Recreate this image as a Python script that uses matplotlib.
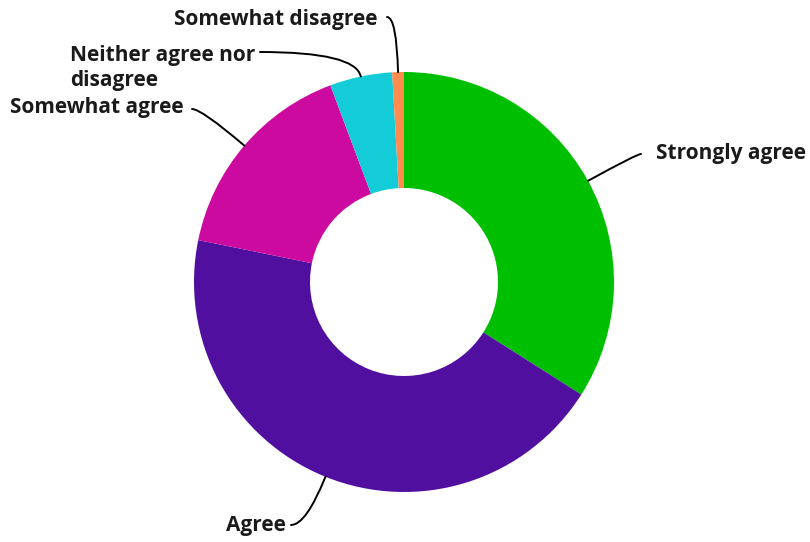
import numpy as np
import matplotlib
matplotlib.use("Agg")
import matplotlib.pyplot as plt

labels = ["Strongly agree", "Agree", "Somewhat agree",
          "Neither agree nor\ndisagree", "Somewhat disagree"]
values = [34.0, 44.2, 16.1, 4.8, 0.9]
colors = ["#00BF00", "#510FA0", "#CC0AA0", "#14CCD8", "#FF8B4F"]

# label anchor (x, y in pixels from top-left), alignment, where the leader line starts
label_pos = [(656, 154, "left"), (286, 525, "right"), (184, 108, "right"),
             (255, 68, "right"), (377, 19, "right")]
line_start = [(641, 154), (291, 525), (192, 109), (260, 52), (387, 17)]

W, H = 810, 542
fig = plt.figure(figsize=(W / 100, H / 100), dpi=100)
ax = fig.add_axes([0, 0, 1, 1])

cx, cy, R = 404, H - 282, 210
wedges, _ = ax.pie(values, colors=colors, startangle=90, counterclock=False,
                   center=(cx, cy), radius=R,
                   wedgeprops=dict(width=R - 94, linewidth=0))
ax.set_xlim(0, W)
ax.set_ylim(0, H)
ax.set_aspect("auto")
ax.axis("off")

for w, lab, (tx, ty, ha), (sx, sy) in zip(wedges, labels, label_pos, line_start):
    mid = (w.theta1 + w.theta2) / 2
    ex = cx + R * np.cos(np.radians(mid))
    ey = cy + R * np.sin(np.radians(mid))
    ax.annotate("", xy=(ex, ey), xytext=(sx, H - sy),
                arrowprops=dict(arrowstyle="-", color="black", lw=1.4,
                                shrinkA=0, shrinkB=0,
                                connectionstyle=f"angle3,angleA=0,angleB={mid}"))
    ax.text(tx, H - ty, lab, ha=ha, va="center",
            multialignment="left", fontsize=15, fontweight="bold",
            family="Open Sans", color="#1a1a1a", linespacing=1.3)

fig.savefig("out.png", dpi=100)
